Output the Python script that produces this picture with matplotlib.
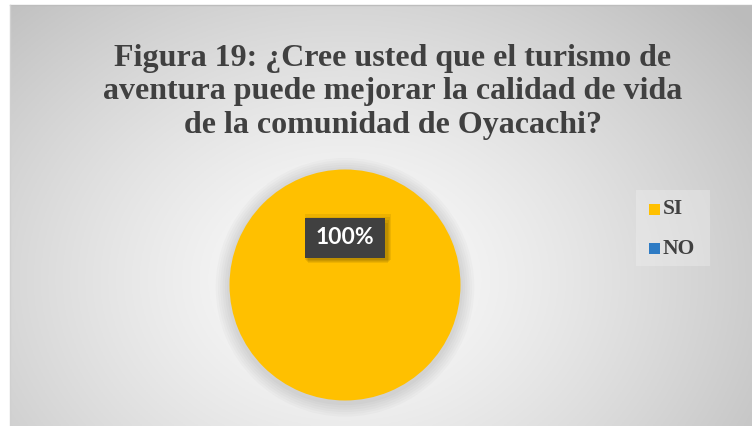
import numpy as np
import matplotlib
matplotlib.use("Agg")
import matplotlib.pyplot as plt
from matplotlib.patches import Rectangle

categories = ["SI", "NO"]
values = [100, 0]
colors = ["#FFC000", "#2E7BC4"]
title = "Figura 19: ¿Cree usted que el turismo de\naventura puede mejorar la calidad de vida\nde la comunidad de Oyacachi?"

W, H = 752, 426
fig = plt.figure(figsize=(W / 100, H / 100), dpi=100)
fig.patch.set_facecolor("white")

# background chart area with radial gradient
bg = fig.add_axes([10 / W, 0, (W - 10) / W, (H - 5) / H])
ny, nx = 200, 360
yy, xx = np.mgrid[0:ny, 0:nx]
cx, cy = nx * 0.45, ny * 0.65
r = np.sqrt(((xx - cx) / (nx * 0.58)) ** 2 + ((yy - cy) / (ny * 0.8)) ** 2)
r = np.clip(r, 0, 1.2)
val = 0.99 - 0.2 * r ** 1.3
img = np.dstack([val, val, val])
bg.imshow(img, extent=[0, 1, 0, 1], aspect="auto", origin="upper")
bg.set_xlim(0, 1); bg.set_ylim(0, 1)
bg.axis("off")
fig.add_artist(plt.Line2D([10 / W, 1], [(H - 5) / H] * 2, color="#bdbdbd", lw=1))
fig.add_artist(plt.Line2D([10 / W] * 2, [0, (H - 5) / H], color="#d0d0d0", lw=1))

fig.text(393 / W, 1 - 92 / H, title, ha="center", va="center",
         fontsize=23, fontweight="bold", family="Liberation Serif",
         color="#404040", linespacing=1.2)

# pie
cxp, cyp, rp = 345, 285, 115.5
ax = fig.add_axes([(cxp - rp) / W, 1 - (cyp + rp) / H, 2 * rp / W, 2 * rp / H])
# soft shadow
for i in range(6):
    ax.add_patch(plt.Circle((0, -0.02), 1.0 + 0.02 * (6 - i), color="black", alpha=0.018,
                            lw=0, clip_on=False))
wedges, texts, autotexts = ax.pie(values, colors=colors, startangle=90, counterclock=False,
                                  autopct=lambda p: f"{p:.0f}%" if p > 0 else "",
                                  wedgeprops=dict(linewidth=0))
ax.set_xlim(-1, 1); ax.set_ylim(-1, 1)
ax.set_aspect("equal")
for t in texts:
    t.set_visible(False)
u = 1 / rp  # one pixel in data units
bx, by = 0, (cyp - 238) * u
bw, bh = 80 * u, 40 * u
for t in autotexts:
    if t.get_text():
        t.set_position((bx, by))
        t.set_color("white"); t.set_fontsize(16.5); t.set_fontweight("bold")
        t.set_family("Lato")
        t.set_zorder(6)
# label box with soft shadow
for k in range(4):
    ax.add_patch(Rectangle((bx - bw / 2 + (3 - k) * u, by - bh / 2 - (5 - k) * u),
                           bw + 2 * k * u, bh + 2 * k * u,
                           facecolor="black", alpha=0.07, lw=0, zorder=4))
ax.add_patch(Rectangle((bx - bw / 2, by - bh / 2), bw, bh, facecolor="#404040", lw=0, zorder=5))

# legend
lax = fig.add_axes([636 / W, 1 - 266 / H, 74 / W, 76 / H])
lax.set_xlim(0, 74); lax.set_ylim(76, 0)
lax.add_patch(Rectangle((0, 0), 74, 76, facecolor="#f2f2f2", alpha=0.35, lw=0))
lax.axis("off")
ys = [19, 58]
for c, col, y in zip(categories, colors, ys):
    lax.add_patch(Rectangle((13, y - 5.5), 11, 11, facecolor=col, lw=0))
    lax.text(27, y + 0.5, c, va="center", ha="left", fontsize=15.5, fontweight="bold",
             family="Liberation Serif", color="#404040")

fig.savefig("out.png", dpi=100)
